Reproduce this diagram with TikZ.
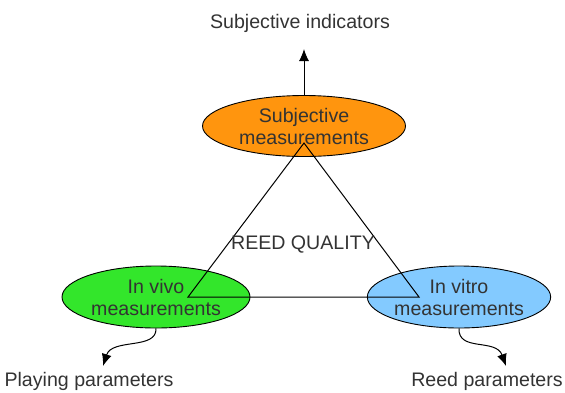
\documentclass[tikz,border=0pt]{standalone}
\usepackage{fontspec}
\setmainfont{Liberation Sans}
\usetikzlibrary{shapes.geometric,arrows.meta}
\definecolor{txt}{HTML}{333333}
\definecolor{orng}{HTML}{FF950E}
\definecolor{grn}{HTML}{33E62B}
\definecolor{blu}{HTML}{83CAFF}
\begin{document}
\begin{tikzpicture}[x=1pt,y=-1pt,
  font=\fontsize{19.6}{22}\selectfont,
  meas/.style={ellipse,draw=black,line width=0.9pt,inner sep=0pt,align=center,text=txt},
  lbl/.style={text=txt,inner sep=0pt},
  conn/.style={draw=black,line width=1pt},
  arr/.style={conn,-{Latex[length=12pt,width=10pt]}}]
\useasboundingbox (0,0) rectangle (565,392);
\node[meas,fill=orng,minimum width=203pt,minimum height=61pt] (subj) at (304,126) {Subjective\\measurements};
\node[meas,fill=grn,minimum width=188pt,minimum height=62pt] (vivo) at (156,297) {In vivo\\measurements};
\node[meas,fill=blu,minimum width=172pt,minimum height=62pt] (vitro) at (459,297) {In vitro\\measurements};
\coordinate (tT) at (304,143);
\coordinate (tL) at (188,297);
\coordinate (tR) at (419,297);
\draw[conn] (tT) -- (tL) -- (tR) -- cycle;
\node[lbl] (rq) at (303,245) {REED QUALITY};
\node[lbl] (si) at (300,23) {Subjective indicators};
\node[lbl] (pp) at (89,381) {Playing parameters};
\node[lbl] (rp) at (487,381) {Reed parameters};
\coordinate (aT) at (304,49);
\coordinate (aL) at (103,366);
\coordinate (aR) at (506,366);
\draw[arr] (subj.north) -- (aT);
\draw[arr] (vivo.south) .. controls (157,350) and (112,338) .. (aL);
\draw[arr] (vitro.south) .. controls (458,352) and (496,338) .. (aR);
\end{tikzpicture}
\end{document}
